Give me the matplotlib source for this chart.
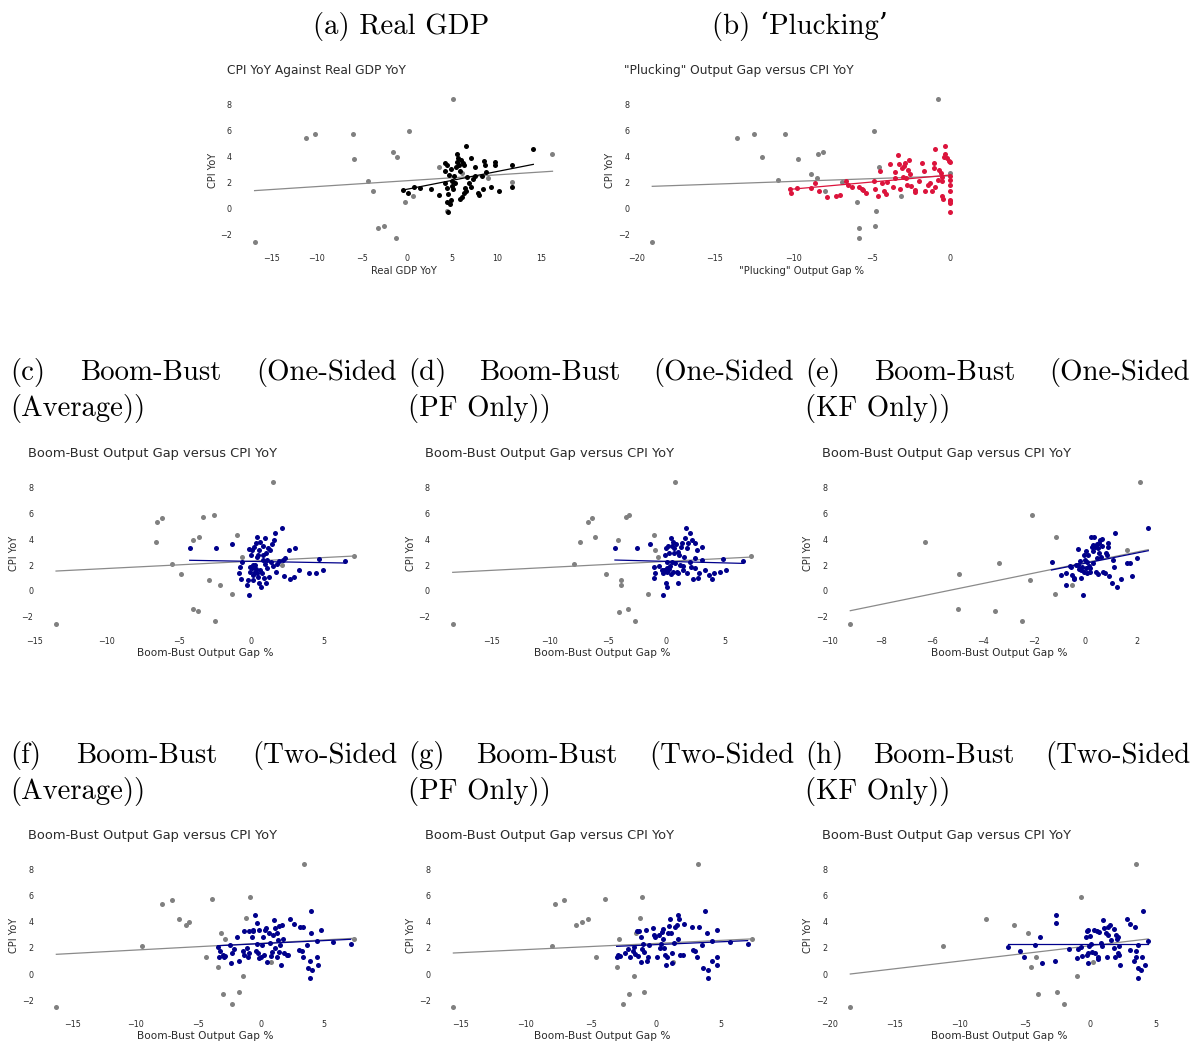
import matplotlib
matplotlib.use("Agg")
import matplotlib.pyplot as plt

plt.rcParams['font.family'] = ['DejaVu Sans']
SERIF = ['cmr10', 'DejaVu Serif']

W, H = 1192, 1042
TEXT = '#2b2b2b'
GREY = '#808080'
GREY_LINE = '#8a8a8a'

# ---- (a) Real GDP
a_grey_x = [-16.9, -11.2, -10.2, -5.93, -5.81, -4.26, -3.78, -3.22, -2.52, -1.56, -1.04, -1.15,
            -0.22, 0.30, 0.67, 3.56, 5.15, 4.44, 6.15, 9.07, 11.67, 16.2]
a_grey_y = [-2.56, 5.38, 5.69, 5.74, 3.77, 2.13, 1.33, -1.51, -1.36, 4.31, 3.97, -2.28,
            0.49, 5.92, 0.92, 3.15, 8.38, -0.2, 2.72, 2.33, 2.05, 4.18]
a_x = [-0.37, 0.15, 0.85, 1.44, 2.67, 3.63, 4.26, 4.22, 4.26, 4.52, 4.44, 4.63, 4.52, 4.63, 4.81,
       4.89, 4.74, 4.89, 5.07, 5.0, 5.19, 5.3, 5.37, 5.48, 5.56, 5.63, 5.74, 5.85, 5.93, 6.04,
       6.11, 5.89, 6.22, 6.41, 6.44, 6.37, 6.56, 6.59, 6.67, 6.89, 7.11, 7.11, 7.33, 7.56, 7.63,
       7.93, 8.07, 8.44, 8.33, 8.59, 8.7, 8.78, 9.33, 9.85, 9.85, 10.26, 11.67, 11.67, 14.07]
a_y = [1.38, 1.2, 1.62, 1.56, 1.46, 1.0, 1.97, 3.46, 2.9, 3.33, 1.54, 1.1, 0.46, -0.31, 0.33,
       0.64, 2.56, 3.0, 2.13, 1.72, 1.46, 2.49, 1.92, 3.2, 4.18, 3.59, 3.85, 3.33, 2.9, 3.72,
       0.9, 0.69, 3.46, 3.33, 1.54, 1.2, 1.36, 4.82, 2.44, 1.92, 3.9, 1.67, 2.28, 2.49, 3.15,
       1.2, 1.0, 1.46, 2.49, 3.67, 3.31, 2.82, 1.67, 3.59, 3.33, 1.36, 3.33, 1.62, 4.54]
a_fit_all = ([-16.9, 16.2], [1.36, 2.85])
a_fit_sub = ([-0.37, 14.07], [1.41, 3.38])

# ---- (b) Plucking
b_grey_x = [-19.0, -13.6, -12.53, -11.98, -10.51, -10.98, -9.68, -8.85, -8.47, -8.45, -8.13, -8.0,
            -6.91, -5.94, -5.83, -5.79, -4.87, -4.79, -4.7, -4.55, -3.13, -0.79, 0.0]
b_grey_y = [-2.56, 5.38, 5.69, 3.97, 5.74, 2.15, 3.77, 2.64, 2.33, 4.18, 4.31, 1.33,
            2.05, 0.49, -1.51, -2.28, 5.92, -1.36, -0.2, 3.15, 0.92, 8.38, 2.72]
b_x = [-10.19, -10.17, -9.77, -8.89, -8.62, -8.34, -7.85, -7.26, -7.02, -6.64,
       -6.49, -6.23, -5.79, -5.64, -5.53, -5.38, -4.85, -4.77, -4.62, -4.47,
       -4.36, -4.21, -4.09, -4.0, -3.85, -3.62, -3.53, -3.51, -3.34, -3.26,
       -3.19, -3.09, -3.02, -2.94, -2.85, -2.79, -2.72, -2.68, -2.64, -2.55,
       -2.51, -2.26, -2.21, -2.0, -1.79, -1.66, -1.6, -1.43, -1.28, -1.15,
       -1.0, -0.96, -0.94, -1.0, -0.74, -0.68, -0.6, -0.53, -0.49, -0.51,
       -0.47, -0.38, -0.32, -0.32, -0.17, -0.04, 0, 0, 0, 0, 0, 0, 0, 0, 0]
b_y = [1.46, 1.2, 1.59, 1.56, 1.92, 1.31, 0.9, 0.95, 1.0, 2.1,
       1.79, 1.67, 1.64, 1.51, 1.41, 1.15, 2.13, 1.46, 0.95, 2.9,
       1.92, 1.36, 1.1, 2.0, 3.38, 1.67, 2.77, 2.31, 4.13, 3.38,
       1.51, 3.1, 2.38, 3.26, 3.51, 2.31, 1.79, 2.95, 3.72, 2.64,
       1.72, 1.41, 1.28, 2.13, 3.46, 2.9, 1.31, 1.79, 1.92, 1.36,
       3.46, 4.54, 1.67, 3.08, 2.18, 2.95, 2.74, 2.44, 2.13, 0.97,
       0.69, 3.97, 4.82, 4.15, 3.85, 3.67, 3.54, 2.49, 1.79, 1.36, 0.64, 0.38, 0.56, -0.31, 2.18]
b_fit_all = ([-19.0, 0.0], [1.69, 2.49])
b_fit_sub = ([-10.19, 0.0], [1.46, 2.56])

# ---- (c) Boom-Bust one-sided (average)
c_grey_x = [-13.53, -6.56, -6.17, -6.63, -5.52, -4.9, -4.02, -3.6, -3.35, -2.59, -2.93, -2.17,
            -4.04, -3.72, -2.52, -1.32, -0.99, -0.67, 1.48, 2.1, 7.14]
c_grey_y = [-2.57, 5.35, 5.66, 3.75, 2.11, 1.29, 3.93, 4.14, 5.71, 5.89, 0.87, 0.46,
            -1.39, -1.57, -2.31, -0.23, 4.29, 2.62, 8.38, 2.0, 2.7]
c_x = [-4.27, -2.45, -1.32, -0.79, -0.85, -0.69, -0.62, -0.3, -0.16, -0.16,
       -0.09, -0.05, 0.02, 0.14, 0.18, 0.25, 0.32, 0.37, 0.42, 0.44,
       0.51, 0.55, 0.6, 0.67, 0.72, 0.79, 0.83, 0.9, 0.95, 0.99,
       1.04, 1.11, 1.15, 1.25, 1.34, 1.41, 1.5, 1.55, 1.66, 1.73,
       1.8, 1.94, 2.1, 2.17, 2.31, 2.26, 2.63, 2.68, 2.96, 3.03,
       3.33, 4.02, 4.48, 4.71, 4.97, 6.47,
       0.25, 0.37, 0.14, 0.02, -0.21, 0.09, 0.83, 1.06, 1.29, 0.48, 0.32, 0.6, 0.95, -0.09]
c_y = [3.29, 3.34, 3.6, 1.88, 1.36, 0.95, 2.21, 0.44, 3.21, -0.31,
       1.49, 2.78, 1.75, 1.23, 3.42, 2.0, 1.67, 2.65, 4.14, 1.05,
       3.16, 0.59, 3.8, 0.33, 1.41, 3.47, 2.39, 0.98, 4.06, 2.9,
       0.64, 1.75, 3.34, 1.05, 2.21, 3.62, 1.93, 3.93, 4.5, 1.44,
       2.08, 2.29, 4.83, 2.39, 2.52, 1.16, 3.16, 0.9, 1.05, 3.34,
       1.62, 1.41, 1.41, 2.47, 1.59, 2.29,
       1.49, 1.36, 2.0, 3.16, 0.85, 0.85, 2.78, 2.39, 3.16, 2.78, 3.68, 1.62, 2.08, 1.88]
c_fit_all = ([-13.53, 7.14], [1.54, 2.7])
c_fit_sub = ([-4.27, 6.47], [2.37, 2.16])

# ---- (d) Boom-Bust one-sided (PF only)
d_grey_x = [-18.3, -7.91, -7.4, -6.74, -6.34, -6.11, -5.14, -4.11, -4.09, -3.91, -3.91, -3.46,
            -3.23, -3.31, -2.69, -1.54, -1.06, -1.0, -0.74, 0.77, 7.29]
d_grey_y = [-2.57, 2.11, 3.75, 5.35, 5.66, 4.14, 1.29, 3.93, -1.59, 0.87, 0.46, 5.71,
            5.89, -1.39, -2.31, -0.21, 4.29, 3.16, 2.62, 8.38, 2.7]
d_x = [-4.4, -2.51, -1.4, -1.06, -1.03, -0.94, -0.63, -0.29, -0.26, -0.11,
       -0.06, -0.03, 0.03, 0.03, 0.09, 0.17, 0.26, 0.37, 0.46, 0.54,
       0.6, 0.66, 0.74, 0.83, 0.97, 1.03, 1.11, 1.23, 1.34, 1.46,
       1.51, 1.6, 1.66, 1.74, 1.8, 1.89, 2.03, 2.11, 2.2, 2.31,
       2.43, 2.49, 2.6, 2.69, 2.83, 3.03, 3.06, 3.31, 3.69, 3.94,
       4.11, 4.6, 4.83, 5.09, 6.6,
       -0.2, 0.1, 0.3, 0.5, 0.9, 1.2, 0.2, 0.7, 1.0, 1.4, 2.0, 2.5, -0.4, 0.4]
d_y = [3.29, 3.34, 3.65, 1.88, 0.98, 1.36, 1.95, -0.31, 1.36, 2.78,
       3.29, 0.64, 0.33, 1.75, 2.26, 3.47, 1.67, 4.11, 3.47, 3.8,
       1.49, 2.9, 2.13, 3.62, 1.36, 0.64, 2.78, 3.42, 3.68, 1.95,
       2.65, 4.11, 4.83, 1.36, 3.29, 3.68, 4.5, 1.88, 3.93, 0.9,
       2.52, 3.73, 3.16, 1.03, 1.36, 3.37, 2.39, 1.62, 1.23, 0.9,
       1.41, 1.44, 2.47, 1.59, 2.29,
       1.6, 1.45, 1.9, 2.2, 1.5, 2.0, 2.9, 3.3, 3.0, 1.6, 2.2, 1.8, 1.6, 1.3]
d_fit_all = ([-18.3, 7.29], [1.44, 2.62])
d_fit_sub = ([-4.4, 6.6], [2.39, 2.13])

# ---- (e) Boom-Bust one-sided (KF only)
e_grey_x = [-9.18, -6.25, -4.95, -4.99, -3.54, -3.37, -2.49, -2.16, -2.08, -1.2, -1.16, -0.52, 1.64, 2.14]
e_grey_y = [-2.57, 3.75, 1.29, -1.39, -1.57, 2.13, -2.31, 0.87, 5.89, -0.21, 4.14, 0.46, 3.16, 8.38]
e_x = [-1.32, -0.94, -0.74, -0.76, -0.56, -0.52, -0.46, -0.43, -0.3, -0.29,
       -0.2, -0.18, -0.12, -0.09, -0.07, -0.04, 0.01, 0.04, 0.07, 0.12,
       0.18, 0.22, 0.25, 0.29, 0.31, 0.35, 0.38, 0.42, 0.44, 0.48,
       0.51, 0.53, 0.59, 0.61, 0.66, 0.7, 0.77, 0.79, 0.83, 0.87,
       0.9, 0.94, 1.03, 1.09, 1.13, 1.16, 1.25, 1.41, 1.61, 1.74,
       1.84, 2.03, 2.46,
       -0.6, -0.35, -0.15, 0.05, 0.15, 0.3, 0.45, 0.55, 0.65, 0.2, -0.25, 0.0]
e_y = [2.24, 1.26, 1.36, 0.46, 1.85, 1.23, 0.9, 1.03, 3.21, 1.98,
       2.34, 0.98, 1.83, -0.31, 2.8, 1.49, 3.08, 1.75, 1.41, 2.78,
       1.75, 4.14, 3.37, 3.55, 2.13, 4.19, 3.42, 1.44, 2.57, 1.31,
       3.34, 3.73, 3.93, 2.65, 3.98, 1.49, 1.36, 2.96, 2.78, 3.37,
       3.68, 1.16, 0.64, 2.39, 1.83, 4.5, 0.28, 0.93, 2.19, 2.13,
       1.16, 2.52, 4.83,
       1.9, 2.0, 1.6, 2.2, 1.9, 3.1, 3.6, 2.9, 3.5, 1.5, 1.7, 2.4]
e_fit_all = ([-9.18, 2.46], [-1.52, 3.19])
e_fit_sub = ([-1.32, 2.46], [1.62, 3.11])

# ---- (f) Boom-Bust two-sided (average)
f_grey_x = [-16.33, -9.48, -7.89, -7.12, -6.56, -6.0, -5.76, -4.44, -3.93, -3.43, -3.19, -3.05,
            -2.87, -2.31, -1.78, -1.43, -1.2, -0.93, 0.74, 3.37, 7.41]
f_grey_y = [-2.56, 2.15, 5.37, 5.68, 4.19, 3.79, 3.99, 1.33, 5.73, 0.51, 3.17, -1.53,
            2.66, -2.28, -1.36, -0.18, 4.32, 5.93, 0.92, 8.41, 2.71]
f_x = [-3.45, -3.37, -3.27, -3.08, -2.97, -2.87, -2.52, -2.44, -2.36, -2.2,
       -1.97, -1.78, -1.43, -1.38, -1.35, -1.17, -1.06, -0.96, -1.01, -0.74,
       -0.66, -0.64, -0.48, -0.42, -0.37, -0.32, -0.27, -0.21, -0.16, -0.03,
       0.05, 0.16, 0.19, 0.27, 0.4, 0.45, 0.58, 0.69, 0.77, 0.85,
       0.93, 1.01, 1.09, 1.12, 1.22, 1.27, 1.33, 1.41, 1.43, 1.49,
       1.54, 1.62, 1.7, 1.81, 2.02, 2.15, 2.28, 2.6, 3.0, 3.11,
       3.24, 3.35, 3.35, 3.64, 3.72, 3.88, 3.93, 3.98, 3.88, 4.01,
       4.41, 4.46, 4.52, 4.75, 5.71, 7.12]
f_y = [2.07, 1.33, 1.76, 1.48, 1.28, 1.38, 2.25, 0.87, 1.59, 1.94,
       2.84, 1.02, 1.79, 3.32, 1.46, 1.97, 1.33, 1.59, 3.3, 2.81,
       3.27, 3.4, 4.53, 1.79, 2.28, 3.89, 1.64, 3.38, 1.2, 1.33,
       2.23, 2.81, 1.46, 3.38, 3.5, 0.95, 3.17, 2.35, 1.38, 1.71,
       2.97, 4.14, 3.5, 1.97, 1.33, 3.12, 2.61, 1.71, 3.68, 2.23,
       0.66, 3.76, 2.66, 1.59, 1.46, 1.46, 4.19, 3.84, 1.84, 3.6,
       1.79, 3.58, 1.33, 2.2, 0.46, 1.02, 3.17, 4.86, -0.31, 0.31,
       2.56, 1.33, 0.66, 3.38, 2.46, 2.3]
f_fit_all = ([-16.33, 7.41], [1.51, 2.74])
f_fit_sub = ([-3.45, 7.12], [2.17, 2.66])

# ---- (g) Boom-Bust two-sided (PF only)
g_grey_x = [-15.55, -8.0, -7.77, -7.03, -6.11, -5.68, -5.24, -4.58, -3.89, -2.99, -2.84,
            -2.53, -2.07, -1.66, -1.23, -1.1, -0.9, 1.33, 3.2, 7.34, -1.53]
g_grey_y = [-2.56, 2.12, 5.37, 5.68, 3.79, 3.99, 4.19, 1.33, 5.73, 0.51, 2.66,
            -2.28, -1.53, -0.18, 4.32, 5.93, -1.36, 0.92, 8.41, 2.71, 3.17]
g_x = [-3.02, -2.94, -2.76, -2.35, -2.17, -1.99, -1.79, -1.69, -1.59, -1.48,
       -1.36, -1.28, -1.18, -1.13, -1.05, -0.97, -0.9, -0.77, -0.72, -0.59,
       -0.51, -0.26, -0.13, -0.05, 0.08, 0.23, 0.31, 0.38, 0.43, 0.51,
       0.56, 0.61, 0.69, 0.77, 0.82, 0.9, 0.97, 1.05, 1.13, 1.2,
       1.25, 1.38, 1.48, 1.59, 1.66, 1.71, 1.76, 1.84, 2.05, 2.15,
       2.74, 2.86, 2.99, 3.12, 3.32, 3.5, 3.58, 3.76, 3.89, 3.99,
       4.02, 4.27, 4.32, 4.71, 4.71, 4.71, 5.68, 7.03]
g_y = [1.28, 1.46, 1.38, 1.59, 1.94, 1.33, 1.79, 2.1, 1.54, 3.32,
       1.38, 3.32, 2.81, 0.95, 1.89, 2.3, 1.71, 3.38, 1.02, 1.33,
       2.23, 3.5, 2.99, 2.81, 1.33, 2.99, 1.97, 2.3, 3.25, 3.43,
       2.66, 1.97, 1.46, 0.66, 1.28, 3.17, 3.68, 4.19, 3.12, 1.64,
       0.87, 2.4, 3.58, 3.76, 2.66, 4.53, 4.19, 1.46, 1.46, 3.84,
       3.6, 1.84, 1.79, 1.33, 3.58, 2.2, 0.46, 4.86, 3.17, 0.31,
       -0.31, 2.56, 1.02, 3.38, 1.33, 0.66, 2.46, 2.3]
g_fit_all = ([-15.55, 7.34], [1.61, 2.69])
g_fit_sub = ([-3.02, 7.03], [2.12, 2.56])

# ---- (h) Boom-Bust two-sided (KF only)
h_grey_x = [-18.39, -11.29, -7.97, -5.87, -4.78, -4.55, -4.19, -4.03, -2.53, -2.02, -1.05, -0.69, 0.23, 3.52]
h_grey_y = [-2.56, 2.15, 4.19, 3.79, 3.17, 0.51, 1.33, -1.53, -1.36, -2.28, -0.18, 5.93, 0.92, 8.41]
h_x = [-6.33, -5.41, -5.06, -4.26, -3.88, -3.7, -2.73, -2.6, -2.6, -1.66,
       -1.05, -0.94, -0.72, -0.61, -0.33, -0.28, -0.23, -0.2, -0.15, -0.15,
       -0.08, 0.0, 0.05, 0.13, 0.28, 0.36, 0.51, 0.56, 0.61, 0.66,
       0.82, 0.87, 1.0, 1.07, 1.17, 1.25, 1.33, 1.38, 1.51, 1.58,
       1.81, 1.84, 1.89, 1.94, 2.02, 2.09, 2.15, 2.2, 2.25, 2.2,
       2.78, 3.04, 3.04, 3.37, 3.42, 3.47, 3.47, 3.68, 3.68, 3.68,
       3.88, 3.98, 4.06, 4.16, 4.44]
h_y = [2.07, 1.76, 1.33, 2.23, 2.84, 0.87, 1.02, 4.53, 3.94, 1.89,
       1.2, 1.89, 2.05, 1.38, 2.81, 1.46, 3.32, 3.38, 1.59, 0.87,
       2.15, 2.92, 2.3, 1.71, 3.38, 1.64, 3.32, 1.28, 1.13, 3.2,
       2.35, 2.15, 4.14, 3.5, 3.12, 1.33, 2.99, 3.58, 3.76, 2.61,
       3.43, 1.97, 1.33, 2.99, 2.66, 2.81, 1.64, 2.15, 0.66, 1.46,
       4.19, 3.84, 1.84, 1.02, 3.6, 1.79, 1.33, 2.2, 0.46, -0.31,
       0.31, 1.33, 4.86, 0.66, 2.56]
h_fit_all = ([-18.39, 4.44], [0.0, 2.69])
h_fit_sub = ([-6.33, 4.44], [2.28, 2.28])

y_ticks = [-2, 0, 2, 4, 6, 8]

fig = plt.figure(figsize=(W / 100, H / 100), dpi=100)
fig.patch.set_facecolor('white')


def panel(x0, xs, y0, ys, xlim, ylim, xticks, title, xlabel,
          gx, gy, cx, cy, fit_all, fit_sub, color, title_size=8.8, label_size=7.2):
    # x0/y0: pixel of data zero, xs/ys: pixels per unit
    left = x0 + xs * xlim[0]
    right = x0 + xs * xlim[1]
    top = y0 - ys * ylim[1]
    bottom = y0 - ys * ylim[0]
    ax = fig.add_axes([left / W, 1 - bottom / H, (right - left) / W, (bottom - top) / H])
    ax.scatter(gx, gy, s=13, color=GREY, linewidths=0, zorder=2)
    ax.plot(fit_all[0], fit_all[1], color=GREY_LINE, lw=0.9, zorder=3)
    ax.scatter(cx, cy, s=13, color=color, linewidths=0, zorder=4)
    ax.plot(fit_sub[0], fit_sub[1], color=color, lw=0.9, zorder=5)
    ax.set_xlim(xlim)
    ax.set_ylim(ylim)
    ax.set_xticks(xticks)
    ax.set_yticks(y_ticks)
    ax.tick_params(length=0, labelsize=5.8, colors=TEXT)
    ax.tick_params(axis='x', pad=1.2)
    ax.tick_params(axis='y', pad=0.5)
    for s in ax.spines.values():
        s.set_visible(False)
    fig.text((left - 6) / W, 1 - (top - 18) / H, title, fontsize=title_size,
             ha='left', va='center', color=TEXT)
    fig.text((left - 20) / W, 1 - (top + bottom) / 2 / H, 'CPI YoY', fontsize=7.0,
             rotation=90, ha='center', va='center', color=TEXT)
    fig.text((left + right) / 2 / W, 1 - (bottom + 18) / H, xlabel, fontsize=label_size,
             ha='center', va='center', color=TEXT)
    return ax


bb_title = 'Boom-Bust Output Gap versus CPI YoY'
bb_label = 'Boom-Bust Output Gap %'
bb_sizes = dict(title_size=9.4, label_size=7.6)
ylim_top = (-3.41, 9.23)

panel(406.7, 9.0, 208.3, 13.0, (-19.34, 18.64), ylim_top, [-15, -10, -5, 0, 5, 10, 15],
      'CPI YoY Against Real GDP YoY', 'Real GDP YoY',
      a_grey_x, a_grey_y, a_x, a_y, a_fit_all, a_fit_sub, 'black')
panel(950.0, 15.67, 208.3, 13.0, (-20.4, 1.4), ylim_top, [-20, -15, -10, -5, 0],
      '"Plucking" Output Gap versus CPI YoY', '"Plucking" Output Gap %',
      b_grey_x, b_grey_y, b_x, b_y, b_fit_all, b_fit_sub, 'crimson')

ylim_mid = (-3.42, 9.23)
panel(251.3, 14.43, 591.0, 12.96, (-15.05, 8.66), ylim_mid, [-15, -10, -5, 0, 5],
      bb_title, bb_label, c_grey_x, c_grey_y, c_x, c_y, c_fit_all, c_fit_sub, 'darkblue', **bb_sizes)
panel(666.3, 11.67, 591.0, 12.96, (-20.19, 9.18), ylim_mid, [-15, -10, -5, 0, 5],
      bb_title, bb_label, d_grey_x, d_grey_y, d_x, d_y, d_fit_all, d_fit_sub, 'darkblue', **bb_sizes)
panel(1085.3, 25.6, 591.0, 12.96, (-10.04, 3.32), ylim_mid, [-10, -8, -6, -4, -2, 0, 2],
      bb_title, bb_label, e_grey_x, e_grey_y, e_x, e_y, e_fit_all, e_fit_sub, 'darkblue', **bb_sizes)

ylim_bot = (-3.4, 9.25)
panel(261.3, 12.55, 974.0, 13.04, (-18.08, 9.16), ylim_bot, [-15, -10, -5, 0, 5],
      bb_title, bb_label, f_grey_x, f_grey_y, f_x, f_y, f_fit_all, f_fit_sub, 'darkblue', **bb_sizes)
panel(656.0, 13.03, 974.0, 13.04, (-17.24, 9.03), ylim_bot, [-15, -10, -5, 0, 5],
      bb_title, bb_label, g_grey_x, g_grey_y, g_x, g_y, g_fit_all, g_fit_sub, 'darkblue', **bb_sizes)
panel(1090.3, 13.05, 974.0, 13.04, (-20.08, 6.13), ylim_bot, [-20, -15, -10, -5, 0, 5],
      bb_title, bb_label, h_grey_x, h_grey_y, h_x, h_y, h_fit_all, h_fit_sub, 'darkblue', **bb_sizes)

# subfigure captions
CAP = 20.7
renderer = fig.canvas.get_renderer()


def justified(words, x_left, x_right, y_base):
    texts = [fig.text(0, 1 - y_base / H, w, fontsize=CAP, family=SERIF, va='baseline', color='black')
             for w in words]
    widths = [t.get_window_extent(renderer).width for t in texts]
    gap = (x_right - x_left - sum(widths)) / (len(words) - 1)
    x = x_left
    for t, w in zip(texts, widths):
        t.set_x(x / W)
        x += w + gap


fig.text(401 / W, 1 - 34 / H, '(a) Real GDP', fontsize=CAP, family=SERIF,
         ha='center', va='baseline')
fig.text(800 / W, 1 - 34 / H, '(b) ‘Plucking’', fontsize=CAP, family=SERIF,
         ha='center', va='baseline')

cells = [(10, 397), (408, 794), (805, 1190)]
row2 = [('(c)', '(Average))'), ('(d)', '(PF Only))'), ('(e)', '(KF Only))')]
row3 = [('(f)', '(Average))'), ('(g)', '(PF Only))'), ('(h)', '(KF Only))')]
for (x_l, x_r), (tag, second) in zip(cells, row2):
    justified([tag, 'Boom-Bust', '(One-Sided'], x_l, x_r, 380)
    fig.text(x_l / W, 1 - 416 / H, second, fontsize=CAP, family=SERIF, va='baseline')
for (x_l, x_r), (tag, second) in zip(cells, row3):
    justified([tag, 'Boom-Bust', '(Two-Sided'], x_l, x_r, 763)
    fig.text(x_l / W, 1 - 799 / H, second, fontsize=CAP, family=SERIF, va='baseline')

fig.savefig('out.png', dpi=100)
